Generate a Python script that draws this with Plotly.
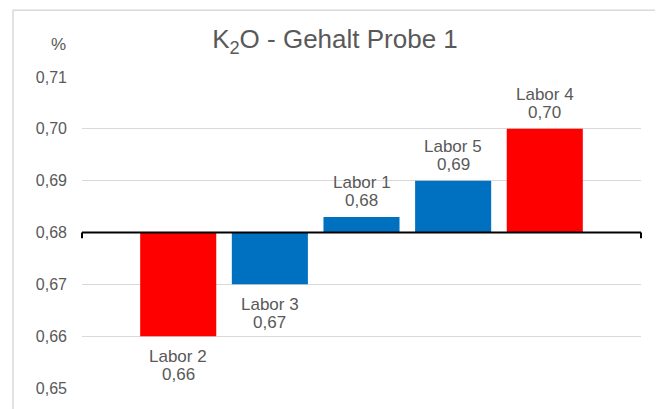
import plotly.graph_objects as go

labs = ["Labor 2", "Labor 3", "Labor 1", "Labor 5", "Labor 4"]
values = [0.66, 0.67, 0.683, 0.69, 0.70]
value_labels = ["0,66", "0,67", "0,68", "0,69", "0,70"]
colors = ["#FF0000", "#0070C0", "#0070C0", "#0070C0", "#FF0000"]
BASE = 0.68
y_ticks = [0.65, 0.66, 0.67, 0.68, 0.69, 0.70, 0.71]

TXT = "#595959"
FONT = "Liberation Sans, Arial, sans-serif"

W, H = 655, 401

fig = go.Figure()
fig.add_trace(go.Bar(
    x=labs,
    y=[v - BASE for v in values],
    base=BASE,
    marker=dict(color=colors, line=dict(width=0)),
    width=0.83,
    hoverinfo="skip",
))

annotations = []
for name, v, vl in zip(labs, values, value_labels):
    if v >= BASE:
        annotations.append(dict(x=name, y=v, text=vl, showarrow=False, yanchor="bottom",
                                yshift=5, font=dict(size=17, color=TXT, family=FONT)))
        annotations.append(dict(x=name, y=v, text=name, showarrow=False, yanchor="bottom",
                                yshift=23, font=dict(size=17, color=TXT, family=FONT)))
    else:
        annotations.append(dict(x=name, y=v, text=name, showarrow=False, yanchor="top",
                                yshift=-9, font=dict(size=17, color=TXT, family=FONT)))
        annotations.append(dict(x=name, y=v, text=vl, showarrow=False, yanchor="top",
                                yshift=-27, font=dict(size=17, color=TXT, family=FONT)))

annotations.append(dict(xref="paper", yref="paper", x=-0.042, y=1.106, text="%",
                        showarrow=False, xanchor="center", yanchor="middle",
                        font=dict(size=17, color=TXT, family=FONT)))

shapes = [
    # chart border
    dict(type="rect", xref="paper", yref="paper", x0=-0.1234, x1=1.030, y0=-0.2, y1=1.215,
         line=dict(color="#D9D9D9", width=1.5), fillcolor="rgba(0,0,0,0)", layer="below"),
    # baseline axis
    dict(type="line", xref="paper", yref="y", x0=0, x1=1, y0=BASE, y1=BASE,
         line=dict(color="#000000", width=2)),
    dict(type="line", xref="paper", yref="y", x0=0, x1=0, y0=BASE, y1=BASE - 0.0011,
         line=dict(color="#000000", width=2)),
    dict(type="line", xref="paper", yref="y", x0=1, x1=1, y0=BASE, y1=BASE - 0.0011,
         line=dict(color="#000000", width=2)),
]

fig.update_layout(
    width=W, height=H,
    margin=dict(l=74, r=22, t=69, b=16),
    paper_bgcolor="white", plot_bgcolor="white",
    separators=",.",
    showlegend=False,
    title=dict(text="K<sub>2</sub>O - Gehalt Probe 1", x=327 / W, xanchor="center",
               y=1 - 31 / H, yanchor="middle", font=dict(size=26, color=TXT, family=FONT)),
    xaxis=dict(type="category", range=[-1.05, 5.05], showticklabels=False, showgrid=False,
               zeroline=False, showline=False, ticks=""),
    yaxis=dict(range=[0.65, 0.71], tickvals=y_ticks, tickformat=".2f", showgrid=True,
               gridcolor="#D9D9D9", gridwidth=1, zeroline=False, showline=False, ticks="",
               ticklabelstandoff=14, tickfont=dict(size=16, color=TXT, family=FONT)),
    annotations=annotations,
    shapes=shapes,
    font=dict(family=FONT, color=TXT),
)

fig.write_html("out.html")
